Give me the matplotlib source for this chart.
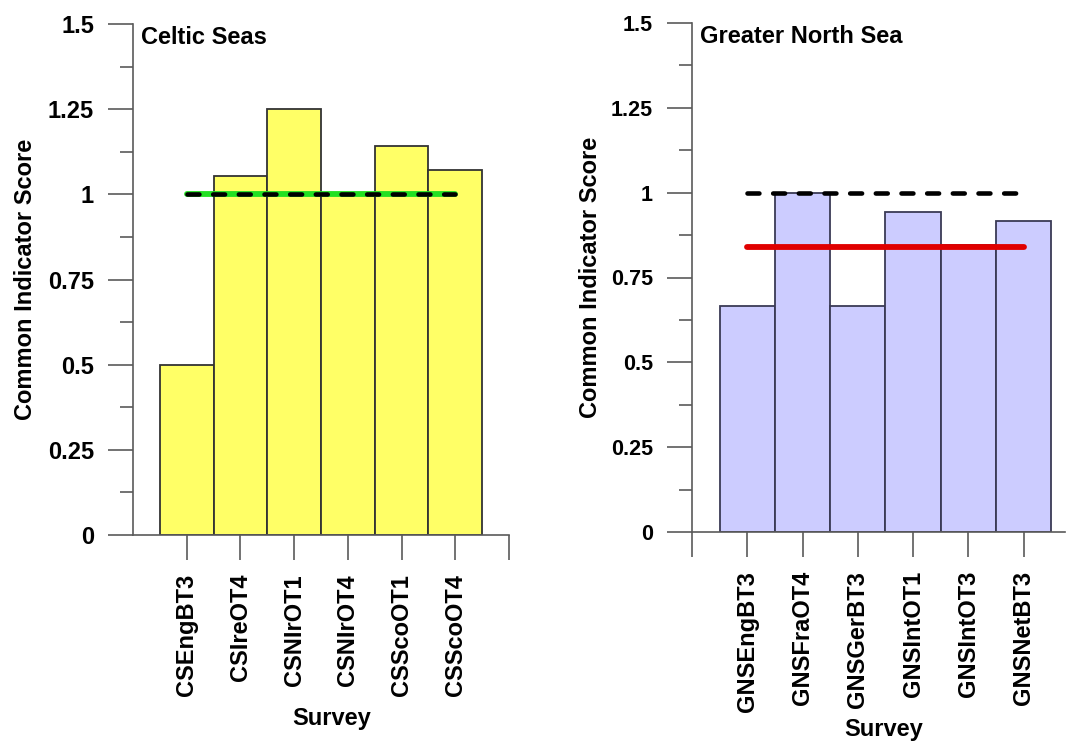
import numpy as np
import matplotlib
matplotlib.use("Agg")
import matplotlib.pyplot as plt

plt.rcParams['font.family'] = ['Liberation Sans', 'DejaVu Sans']
plt.rcParams['font.weight'] = 'bold'

# Celtic Seas
cs_surveys = ['CSEngBT3', 'CSIreOT4', 'CSNIrOT1', 'CSNIrOT4', 'CSScoOT1', 'CSScoOT4']
cs_scores = [0.5, 1.055, 1.25, 1.0, 1.143, 1.07]
cs_mean = 1.0

# Greater North Sea
gns_surveys = ['GNSEngBT3', 'GNSFraOT4', 'GNSGerBT3', 'GNSIntOT1', 'GNSIntOT3', 'GNSNetBT3']
gns_scores = [0.667, 1.0, 0.667, 0.943, 0.845, 0.917]
gns_mean = 0.841

threshold = 1.0
yticks = [0, 0.25, 0.5, 0.75, 1, 1.25, 1.5]
ytick_labels = ['0', '0.25', '0.5', '0.75', '1', '1.25', '1.5']

W, H = 1066, 745
fig = plt.figure(figsize=(W / 100, H / 100), dpi=100)

def px_axes(x0, x1, ytop, ybot):
    return fig.add_axes([x0 / W, (H - ybot) / H, (x1 - x0) / W, (ybot - ytop) / H])

axc = '#5a5a5a'

def style(ax, names, scores, mean, fc, ec, mean_col, title, xlim, end_tick,
          ysize, ylab_x, surv_xy):
    x = np.arange(len(names))
    ax.bar(x, scores, width=1.0, color=fc, edgecolor=ec, linewidth=1.3, zorder=2)
    ax.plot([x[0], x[-1]], [mean, mean], color=mean_col, lw=4.2, zorder=3,
            solid_capstyle='round')
    ax.plot([x[0], x[-1]], [threshold, threshold], color='black', lw=3.3,
            dashes=(2.6, 3.0), dash_capstyle='round', zorder=4)
    ax.set_xlim(*xlim)
    ax.set_ylim(0, 1.5)
    for s in ['top', 'right']:
        ax.spines[s].set_visible(False)
    for s in ['left', 'bottom']:
        ax.spines[s].set_color(axc)
        ax.spines[s].set_linewidth(1.2)
    ax.set_yticks(yticks)
    ax.set_yticklabels(ytick_labels, fontsize=ysize, fontweight='bold')
    ax.set_yticks(np.arange(0.125, 1.5, 0.25), minor=True)
    ax.set_xticks(x)
    ax.set_xticklabels(names, rotation=90, fontsize=17, fontweight='bold')
    ax.set_xticks([end_tick], minor=True)
    ax.tick_params(axis='both', which='major', length=18, width=1.2, color=axc, pad=10)
    ax.tick_params(axis='y', which='minor', length=9.5, width=1.2, color=axc)
    ax.tick_params(axis='x', which='minor', length=18, width=1.2, color=axc)
    ax.set_ylabel('Common Indicator Score', fontsize=17, fontweight='bold')
    ax.yaxis.set_label_coords(ylab_x, 0.5)
    ax.set_xlabel('Survey', fontsize=17, fontweight='bold')
    ax.xaxis.set_label_coords(*surv_xy)
    ax.text(0.021, 0.974, title, transform=ax.transAxes, fontsize=17,
            fontweight='bold', va='center', ha='left')

ax1 = px_axes(133, 509, 24, 535)
style(ax1, cs_surveys, cs_scores, cs_mean, '#ffff66', '#333333', '#22e022',
      'Celtic Seas', (-1, 6), 6, 17, -0.255, (0.527, -0.337))

ax2 = px_axes(692, 1065, 23, 532)
style(ax2, gns_surveys, gns_scores, gns_mean, '#ccccff', '#3a3a55', '#e00000',
      'Greater North Sea', (-1, 5.75), -1, 15.5, -0.241, (0.515, -0.365))

fig.savefig('out.png', dpi=100)
